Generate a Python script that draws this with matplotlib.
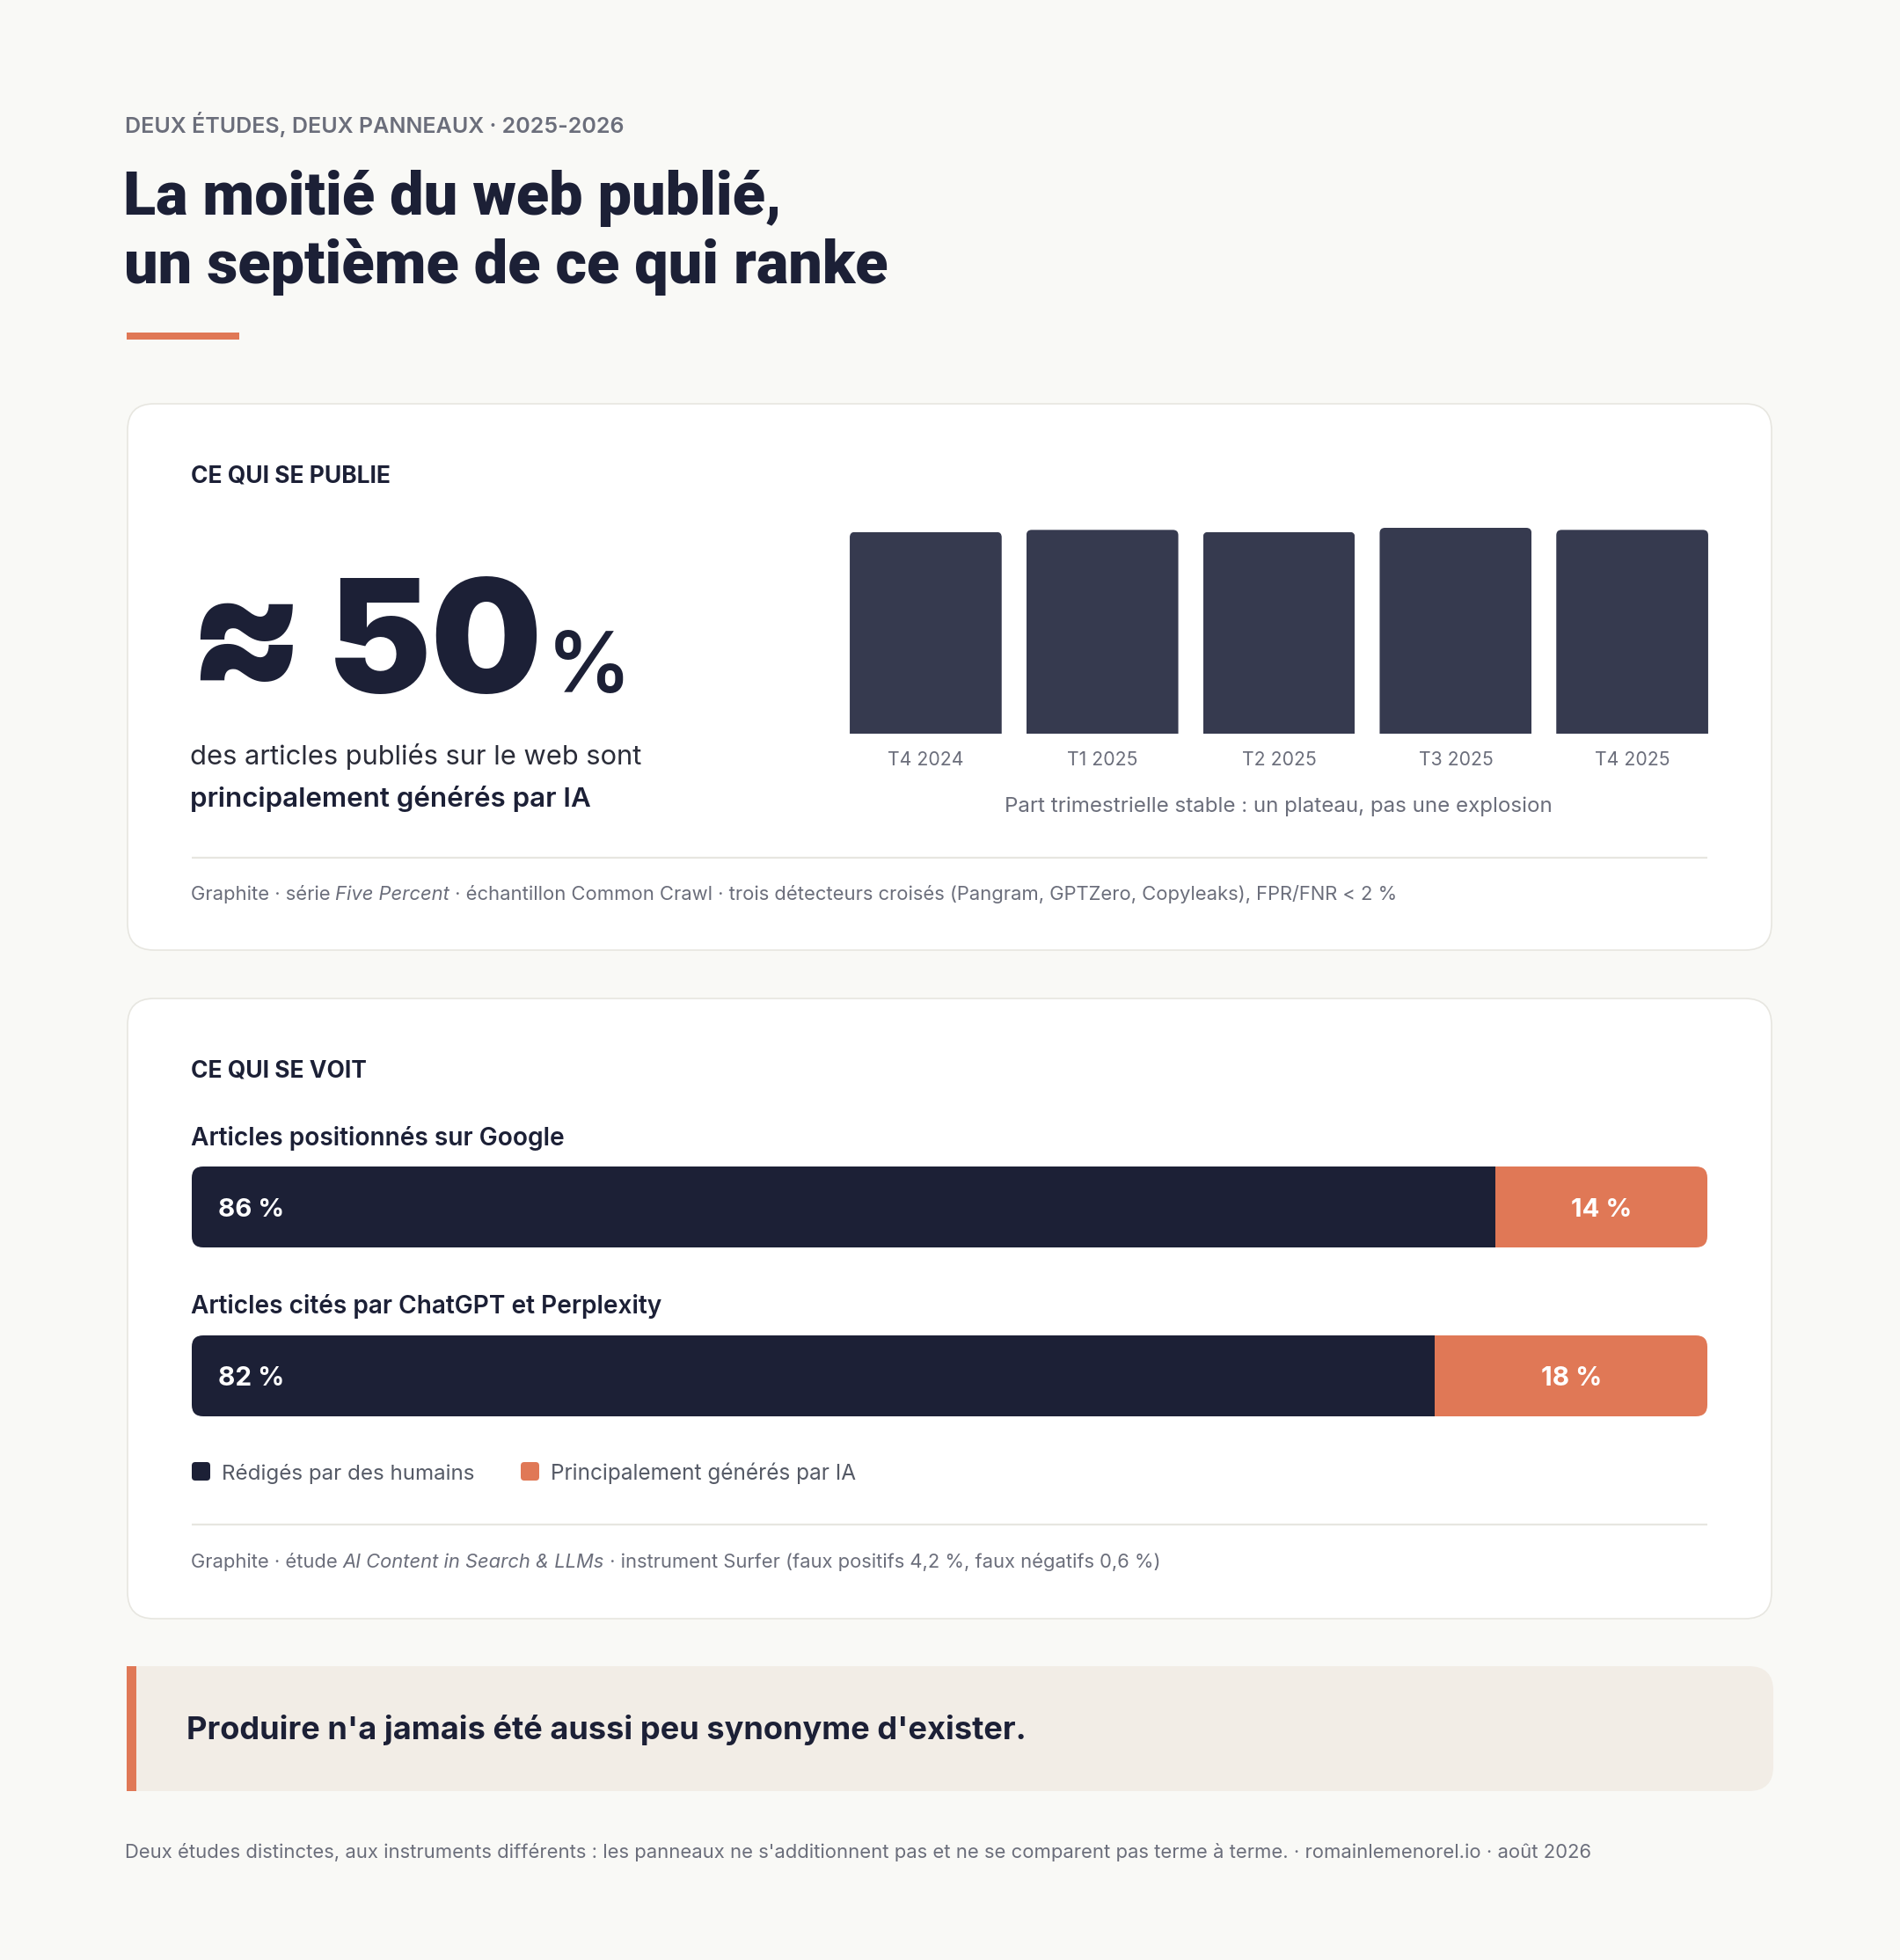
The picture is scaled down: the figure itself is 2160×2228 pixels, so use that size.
import matplotlib
matplotlib.use("Agg")
import matplotlib.pyplot as plt
from matplotlib.patches import FancyBboxPatch, Rectangle
from matplotlib.font_manager import FontProperties
from matplotlib.textpath import TextPath
from matplotlib.transforms import IdentityTransform

# ---------------- data ----------------
eyebrow = "DEUX ÉTUDES, DEUX PANNEAUX · 2025-2026"
title_lines = ["La moitié du web publié,", "un septième de ce qui ranke"]
panel1_label = "CE QUI SE PUBLIE"
headline_prefix = "≈"
headline_value = "50"
headline_unit = "%"
headline_lines = ["des articles publiés sur le web sont", "principalement générés par IA"]
quarters = ["T4 2024", "T1 2025", "T2 2025", "T3 2025", "T4 2025"]
quarter_share = [49.0, 49.5, 49.0, 50.0, 49.5]
quarter_caption = "Part trimestrielle stable : un plateau, pas une explosion"
source1_parts = [("Graphite · série ", "normal"), ("Five Percent", "italic"),
                 (" · échantillon Common Crawl · trois détecteurs croisés (Pangram, GPTZero, Copyleaks), FPR/FNR < 2 %", "normal")]
panel2_label = "CE QUI SE VOIT"
row_labels = ["Articles positionnés sur Google", "Articles cités par ChatGPT et Perplexity"]
human_share = [86, 82]
ai_share = [14, 18]
series_names = ["Rédigés par des humains", "Principalement générés par IA"]
source2_parts = [("Graphite · étude ", "normal"), ("AI Content in Search & LLMs", "italic"),
                 (" · instrument Surfer (faux positifs 4,2 %, faux négatifs 0,6 %)", "normal")]
quote = "Produire n'a jamais été aussi peu synonyme d'exister."
footer = ("Deux études distinctes, aux instruments différents : les panneaux ne s'additionnent pas "
          "et ne se comparent pas terme à terme. · romainlemenorel.io · août 2026")

# ---------------- style ----------------
W, H = 2160, 2228
DPI = 100
PX = DPI / 72.0
BG = "#f9f9f6"
CARD = "#ffffff"
BORDER = "#e7e6e0"
NAVY = "#1c2036"
BARNAVY = "#363a4f"
ORANGE = "#e07856"
GRAY = "#6b6e7b"
TEXT = "#2a2c38"
QUOTEBG = "#f2ede6"
FAM = ["Inter", "DejaVu Sans"]
TITLE_FAM = ["Roboto", "Inter", "DejaVu Sans"]

plt.rcParams["font.family"] = FAM

fig = plt.figure(figsize=(W / DPI, H / DPI), dpi=DPI, facecolor=BG)
page = fig.add_axes([0, 0, 1, 1])
page.set_xlim(0, W)
page.set_ylim(H, 0)
page.axis("off")
page.set_facecolor(BG)


def fprop(weight="normal", style="normal", size=12, family=None):
    return FontProperties(family=family or FAM, weight=weight, style=style, size=size)


def ink(s, size, prop):
    return TextPath((0, 0), s, size=size * PX, prop=prop).get_extents()


def adv(s, size, prop):
    return ink(s + "H", size, prop).x1 - ink("H", size, prop).x1


def put(s, x, y, size, color, weight="normal", style="normal", ha="left", width=None,
        zorder=5, host=None, family=None, ycenter=False):
    p = fprop(weight, style, family=family)
    if width is not None:
        e = ink(s, size, p)
        size = size * width / e.width
    e = ink(s, size, p)
    if ha == "left":
        tx = x - e.x0
    elif ha == "center":
        tx = x - (e.x0 + e.x1) / 2
    else:
        tx = x - e.x1
    ty = y + (e.y0 + e.y1) / 2 if ycenter else y
    p2 = fprop(weight, style, size, family=family)
    (host or page).text(tx, ty, s, fontproperties=p2, color=color, ha="left", va="baseline",
                        zorder=zorder, transform=page.transData)
    return size, e


def put_parts(parts, x, y, size, color, width=None, weight="normal"):
    props = [fprop(weight, st) for _, st in parts]

    def total(sz):
        t = sum(adv(s, sz, p) for (s, _), p in zip(parts[:-1], props[:-1]))
        return t + ink(parts[-1][0], sz, props[-1]).x1 - ink(parts[0][0], sz, props[0]).x0

    if width is not None:
        size = size * width / total(size)
    cx = x - ink(parts[0][0], size, props[0]).x0
    for (s, st), p in zip(parts, props):
        page.text(cx, y, s, fontproperties=fprop(weight, st, size), color=color,
                  ha="left", va="baseline", zorder=5)
        cx += adv(s, size, p)


def card(x0, y0, x1, y1):
    page.add_patch(FancyBboxPatch((x0, y0), x1 - x0, y1 - y0,
                                  boxstyle="round,pad=0,rounding_size=30",
                                  facecolor=CARD, edgecolor=BORDER, linewidth=1.2, zorder=1))


def add_axes_px(x0, y0, x1, y1):
    ax = fig.add_axes([x0 / W, 1 - y1 / H, (x1 - x0) / W, (y1 - y0) / H])
    ax.axis("off")
    ax.patch.set_alpha(0)
    return ax


# ---------------- header ----------------
put(eyebrow, 144, 151, 18, GRAY, weight="semibold")
tsize, _ = put(title_lines[1], 144, 322, 48, NAVY, weight="black", width=864, family=TITLE_FAM)
put(title_lines[0], 144, 244, tsize, NAVY, weight="black", family=TITLE_FAM)
page.add_patch(Rectangle((144, 378), 128, 8, facecolor=ORANGE, edgecolor="none", zorder=2))

# ---------------- panel 1 ----------------
card(145, 459, 2014, 1080)
put(panel1_label, 218, 548, 19, NAVY, weight="bold")

put(headline_value, 381, 787, 140, NAVY, weight="black", width=230)
s_ap = 120
e = ink(headline_prefix, s_ap, fprop("black"))
put(headline_prefix, 227, 730, s_ap * 105 / e.width, NAVY, weight="black", ycenter=True)
put(headline_unit, 631, 787, 60, NAVY, weight="semibold", width=77)

put(headline_lines[0], 218, 869, 19, TEXT, width=511)
put(headline_lines[1], 218, 917, 19, NAVY, weight="semibold", width=453)

# quarterly bars
axq = add_axes_px(952, 600, 1956, 834)
n = len(quarters)
bars = axq.bar(range(n), quarter_share, width=0.86, color=BARNAVY, linewidth=0)
axq.set_xlim(-0.5, n - 0.5)
axq.set_ylim(0, max(quarter_share))
fig.canvas.draw()
for b in bars:
    bb = b.get_window_extent()
    r = 6
    clip = FancyBboxPatch((bb.x0, bb.y0 - 2 * r), bb.width, bb.height + 2 * r,
                          boxstyle=f"round,pad=0,rounding_size={r}", transform=IdentityTransform())
    b.set_clip_path(clip)

qsize = None
for b, lab in zip(bars, quarters):
    bb = b.get_window_extent()
    cx = (bb.x0 + bb.x1) / 2
    if qsize is None:
        qsize, _ = put(lab, cx, 870, 15.5, GRAY, ha="center", width=84)
    else:
        put(lab, cx, 870, qsize, GRAY, ha="center")
put(quarter_caption, (bars[0].get_window_extent().x0 + bars[-1].get_window_extent().x1) / 2,
    923, 15.5, GRAY, ha="center", width=619)

page.plot([218, 1941], [975, 975], color=BORDER, linewidth=1.6, zorder=2, solid_capstyle="butt")
put_parts(source1_parts, 218, 1023, 15, GRAY, width=1369)

# ---------------- panel 2 ----------------
card(145, 1135, 2014, 1840)
put(panel2_label, 218, 1224, 19, NAVY, weight="bold")

row_y = [(1326, 1418), (1518, 1610)]
label_base = [1302, 1493]
label_w = [423, 534]
for k in range(len(row_labels)):
    put(row_labels[k], 218, label_base[k], 19, NAVY, weight="semibold", width=label_w[k])
    y0, y1 = row_y[k]
    ax = add_axes_px(218, y0, 1941, y1)
    h1 = ax.barh(0, human_share[k], height=1.0, color=NAVY, linewidth=0)
    h2 = ax.barh(0, ai_share[k], left=human_share[k], height=1.0, color=ORANGE, linewidth=0)
    ax.set_xlim(0, human_share[k] + ai_share[k])
    ax.set_ylim(-0.5, 0.5)
    fig.canvas.draw()
    abb = ax.get_window_extent()
    clip = FancyBboxPatch((abb.x0, abb.y0), abb.width, abb.height,
                          boxstyle="round,pad=0,rounding_size=13", transform=IdentityTransform())
    for b in list(h1) + list(h2):
        b.set_clip_path(clip)
    cy = (y0 + y1) / 2
    e1 = h1[0].get_window_extent()
    e2 = h2[0].get_window_extent()
    vs, _ = put(f"{human_share[k]} %", e1.x0 + 31, cy, 20, "white", weight="bold",
                width=71, host=ax, ycenter=True, zorder=10)
    put(f"{ai_share[k]} %", (e2.x0 + e2.x1) / 2, cy, vs, "white", weight="bold", ha="center",
        host=ax, ycenter=True, zorder=10)

# legend
leg_x = [218, 592]
leg_tw = [284, 344]
leg_col = [NAVY, ORANGE]
for k in range(2):
    page.add_patch(FancyBboxPatch((leg_x[k], 1662), 21, 21, boxstyle="round,pad=0,rounding_size=4",
                                  facecolor=leg_col[k], edgecolor="none", zorder=3))
    put(series_names[k], leg_x[k] + 36, 1682, 16, "#555a66", width=leg_tw[k])

page.plot([218, 1941], [1733, 1733], color=BORDER, linewidth=1.6, zorder=2, solid_capstyle="butt")
put_parts(source2_parts, 218, 1782, 15, GRAY, width=1098)

# ---------------- quote ----------------
page.add_patch(FancyBboxPatch((144, 1894), 1872, 142, boxstyle="round,pad=0,rounding_size=28",
                              facecolor=QUOTEBG, edgecolor="none", zorder=1))
page.add_patch(Rectangle((144, 1894), 60, 142, facecolor=QUOTEBG, edgecolor="none", zorder=1))
page.add_patch(Rectangle((144, 1894), 11, 142, facecolor=ORANGE, edgecolor="none", zorder=2))
put(quote, 214, 1977, 24, NAVY, weight="bold", width=950)

# ---------------- footer ----------------
put(footer, 144, 2112, 15, GRAY, width=1658)

fig.savefig("out.png", dpi=DPI, facecolor=BG)
